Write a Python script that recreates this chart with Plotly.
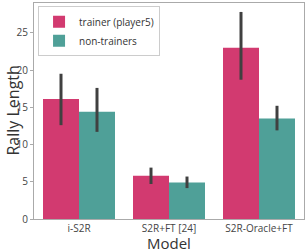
import plotly.graph_objects as go

models = ["i-S2R", "S2R+FT [24]", "S2R-Oracle+FT"]
trainer_vals = [16.1, 5.8, 23.0]
trainer_hi = [19.5, 6.9, 27.8]
trainer_lo = [12.6, 4.7, 18.7]
non_vals = [14.4, 4.9, 13.5]
non_hi = [17.6, 5.7, 15.2]
non_lo = [11.7, 4.15, 11.9]

PINK = "#d23a70"
TEAL = "#4fa098"
FONT = "Open Sans"

W, H = 308, 252
ML, MR, MT, MB = 34, 4, 3, 33

def bar(name, vals, hi, lo, color):
    return go.Bar(
        name=name, x=models, y=vals,
        marker=dict(color=color, line=dict(width=0)),
        error_y=dict(type="data", symmetric=False,
                     array=[h - v for h, v in zip(hi, vals)],
                     arrayminus=[v - l for v, l in zip(vals, lo)],
                     color="#404040", thickness=3, width=0),
    )

fig = go.Figure([
    bar("trainer (player5)", trainer_vals, trainer_hi, trainer_lo, PINK),
    bar("non-trainers", non_vals, non_hi, non_lo, TEAL),
])

pw = W - ML - MR
ph = H - MT - MB

fig.update_layout(
    width=W, height=H,
    margin=dict(l=ML, r=MR, t=MT, b=MB, autoexpand=False),
    barmode="group", bargap=0.2, bargroupgap=0,
    plot_bgcolor="white", paper_bgcolor="white",
    font=dict(family=FONT, color="#444444", size=10),
    showlegend=True,
    legend=dict(x=0.015, y=0.985, xanchor="left", yanchor="top",
                bgcolor="white", bordercolor="#cccccc", borderwidth=1,
                font=dict(size=10, color="#333333"), tracegroupgap=0,
                itemwidth=30),
    annotations=[
        dict(text="Model", x=0.5, xref="paper", y=(H - MB - 242.5) / ph, yref="paper",
             showarrow=False, font=dict(size=15, color="#333333"),
             yanchor="middle", xanchor="center"),
        dict(text="Rally Length", x=(12.5 - ML) / pw, xref="paper", y=0.5, yref="paper",
             showarrow=False, font=dict(size=16, color="#333333"),
             textangle=-90, xanchor="center", yanchor="middle"),
    ],
)

fig.update_xaxes(
    showline=True, linecolor="#aaaaaa", linewidth=1, mirror=True,
    ticks="", showgrid=False, tickfont=dict(size=10, color="#444444"),
    automargin=False,
)
fig.update_yaxes(
    range=[0, 29], tickvals=[0, 5, 10, 15, 20, 25],
    showline=True, linecolor="#aaaaaa", linewidth=1, mirror=True,
    ticks="outside", ticklen=3, tickcolor="#aaaaaa",
    showgrid=False, zeroline=False, tickfont=dict(size=10, color="#444444"),
    automargin=False,
)

fig.write_html("out.html", config={"displayModeBar": False},
               post_script="document.body.style.margin='0';")
